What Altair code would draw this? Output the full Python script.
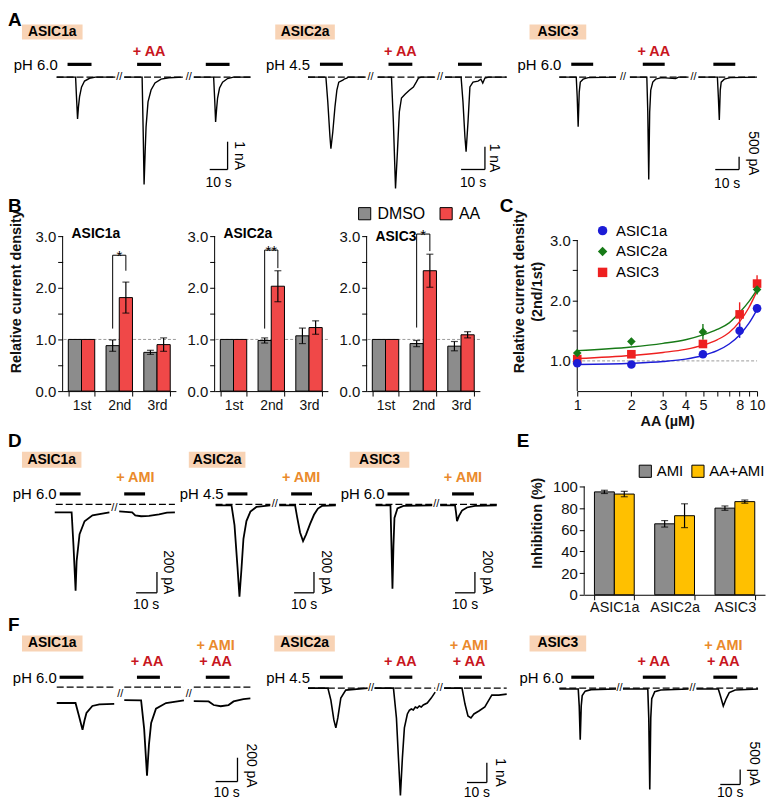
import altair as alt
import pandas as pd

FONT = "Liberation Sans"
PEACH = "#f8d3b5"
RED_T = "#c8161e"
ORANGE_T = "#ea8a2c"
GRAY = "#8c8c8c"
RED_B = "#f04848"
YELLOW = "#ffc000"

# ---------------- Panel A traces (time in s, current) ----------------
A1_T = [[27.2, 37.8, 38.3, 38.9, 39.4, 40.0, 41.1, 42.8, 45.6, 48.9, 60.0],
        [65.0, 75.0, 75.6, 76.1, 76.7, 77.2, 78.3, 80.0, 82.2, 85.6, 90.0, 97.8],
        [103.9, 115.0, 115.6, 116.1, 116.7, 117.2, 118.3, 120.0, 122.8, 126.1, 135.6]]
A1_I = [[0, 0, -0.71, -1.5, -1.07, -0.71, -0.36, -0.14, -0.04, 0, 0],
        [0, 0, -1.96, -3.86, -2.68, -1.79, -0.89, -0.46, -0.21, -0.07, -0.02, 0],
        [0, 0, -0.82, -1.61, -1.11, -0.75, -0.39, -0.18, -0.05, 0, 0]]
A2_T = [[20.0, 27.5, 28.3, 29.2, 29.6, 30.4, 31.3, 32.1, 32.9, 34.6, 35.4, 36.3, 36.7, 44.2],
        [49.2, 55.0, 55.8, 56.7, 57.5, 58.3, 59.2, 60.8, 62.5, 64.2, 65.4, 66.3, 67.5, 73.3],
        [77.5, 84.2, 85.0, 85.8, 86.3, 87.1, 87.9, 89.2, 91.3, 92.5, 93.3, 94.2, 95.8, 103.3]]
A2_I = [[0, 0, -1.09, -2.61, -3.13, -2.39, -1.30, -0.57, -0.22, -0.13, -0.07, -0.04, 0, 0],
        [0, 0, -1.96, -4.87, -3.26, -1.52, -0.91, -0.74, -0.57, -0.43, -0.22, -0.04, 0, 0],
        [0, 0, -1.09, -2.61, -3.26, -1.96, -0.43, -0.22, -0.17, -0.09, -0.26, -0.04, 0, 0]]
A3_T = [[20.4, 27.5, 27.9, 28.3, 28.75, 29.2, 30.4, 32.5, 44.2],
        [50.0, 57.1, 57.5, 57.9, 58.3, 58.75, 59.6, 60.8, 63.3, 69.2, 70.4, 74.6],
        [78.75, 86.7, 87.1, 87.5, 87.9, 88.3, 89.6, 92.1, 103.3]]
A3_I = [[0, 0, -769, -1923, -577, -192, -77, -19, 0],
        [0, 0, -1346, -3962, -1346, -500, -192, -77, -19, -58, 0, 0],
        [0, 0, -769, -1654, -500, -192, -77, -19, 0]]

# ---------------- Panel D traces ----------------
D1_T = [[22.4, 30.5, 31.4, 32.4, 32.9, 34.3, 36.7, 40.5, 48.6],
        [53.3, 59.5, 61.0, 63.8, 67.6, 72.4, 76.2, 80.0]]
D1_I = [[-76, -76, -400, -829, -543, -286, -162, -105, -76],
        [-67, -76, -105, -114, -110, -95, -80, -76]]
D2_T = [[21, 29, 30.5, 32, 33, 34, 35, 36.5, 38.5, 41.5, 48.5],
        [53, 61, 62, 63.5, 65, 66.5, 68.5, 70.5, 72.5, 74.5, 81.5]]
D2_I = [[-10, -10, -200, -600, -886, -620, -330, -160, -70, -25, -10],
        [-10, -10, -120, -270, -352, -290, -190, -100, -40, -15, -10]]
D3_T = [[19, 26.5, 27, 27.5, 28, 28.5, 30, 33, 47.5],
        [51.5, 59, 59.5, 60, 61, 62.5, 65, 69, 80]]
D3_I = [[-10, -10, -400, -810, -400, -130, -40, -15, -10],
        [-10, -10, -80, -162, -110, -60, -30, -15, -10]]

# ---------------- Panel F traces ----------------
F1_T = [[22.3, 30.9, 32.3, 34.1, 35.0, 35.9, 38.6, 41.8, 48.6],
        [53.2, 60.9, 62.3, 63.6, 64.5, 65.5, 67.7, 72.3, 80.5],
        [85.0, 91.8, 94.1, 97.3, 100.9, 103.2, 107.7, 110.9]]
F1_I = [[-133, -133, -230, -358, -280, -217, -158, -145, -140],
        [-108, -110, -350, -742, -480, -300, -180, -133, -110],
        [-117, -120, -150, -160, -150, -120, -100, -95]]
F2_T = [[24, 34, 35.5, 37, 38, 39, 40.5, 43, 54],
        [57.5, 67, 68.5, 69.5, 70.5, 71.5, 72.5, 74, 75, 76, 77, 78, 79, 80, 81, 82, 84, 86, 88],
        [92.5, 101.5, 103, 104.5, 106, 107.5, 110, 113, 115, 116.5, 120, 124]]
F2_I = [[0, 0, -0.6, -1.6, -2.0, -1.5, -0.5, -0.1, 0],
        [0, 0, -1.5, -3.5, -5.4, -3.5, -2.0, -1.3, -1.12, -1.05, -1.1, -0.95, -1.0, -0.9, -0.95, -0.85, -0.75, -0.5, -0.2],
        [0, 0, -0.8, -1.4, -1.5, -1.3, -1.15, -0.95, -0.6, -0.35, -0.35, -0.3]]
F3_T = [[24.5, 34, 34.5, 35, 35.5, 36, 37.5, 40.5, 53],
        [56.5, 69, 69.5, 70, 70.5, 71, 72.5, 75.5, 89.5],
        [93.5, 104.5, 105.5, 107, 108.5, 110, 113, 124.5]]
F3_I = [[-30, -30, -600, -1733, -600, -250, -100, -50, -30],
        [-30, -30, -1000, -3400, -1000, -350, -120, -60, -30],
        [-30, -30, -250, -600, -350, -150, -60, -30]]

# ---------------- Panel B (relative current density) ----------------
B_ROUNDS = ["1st", "2nd", "3rd"]
B_GROUPS = ["DMSO", "AA"]
B1_DMSO, B1_DMSO_ERR = [1.0, 0.88, 0.75], [0, 0.11, 0.04]
B1_AA, B1_AA_ERR = [1.0, 1.81, 0.90], [0, 0.30, 0.13]
B2_DMSO, B2_DMSO_ERR = [1.0, 0.98, 1.07], [0, 0.05, 0.15]
B2_AA, B2_AA_ERR = [1.0, 2.03, 1.23], [0, 0.30, 0.13]
B3_DMSO, B3_DMSO_ERR = [1.0, 0.92, 0.87], [0, 0.06, 0.09]
B3_AA, B3_AA_ERR = [1.0, 2.33, 1.09], [0, 0.32, 0.06]

# ---------------- Panel C (dose response) ----------------
C_PROTS = ["ASIC1a", "ASIC2a", "ASIC3"]
C_COLORS = ["#1c1cd6", "#177a17", "#ee2020"]
C1_CONC, C1_MEAN, C1_ERR = [1, 2, 5, 8, 10], [0.96, 0.94, 1.11, 1.50, 1.87], [0.03, 0.03, 0.04, 0.12, 0.07]
C2_CONC, C2_MEAN, C2_ERR = [1, 2, 5, 10], [1.13, 1.32, 1.48, 2.18], [0.04, 0.06, 0.13, 0.08]
C3_CONC, C3_MEAN, C3_ERR = [1, 2, 5, 8, 10], [1.03, 1.11, 1.28, 1.77, 2.28], [0.03, 0.04, 0.06, 0.20, 0.14]
FIT_X = [1, 2, 3, 4, 5, 6, 7, 8, 9, 10]
FIT_C1 = [0.94, 0.96, 0.99, 1.03, 1.09, 1.17, 1.28, 1.43, 1.62, 1.85]
FIT_C2 = [1.17, 1.23, 1.29, 1.35, 1.43, 1.52, 1.63, 1.80, 1.98, 2.18]
FIT_C3 = [1.04, 1.09, 1.14, 1.19, 1.26, 1.35, 1.47, 1.65, 1.88, 2.16]

# ---------------- Panel E (inhibition) ----------------
E_CATS = ["ASIC1a", "ASIC2a", "ASIC3"]
E_GROUPS = ["AMI", "AA+AMI"]
E_AMI, E_AMI_ERR = [95, 65.5, 80], [1.5, 3, 2]
E_AAAMI, E_AAAMI_ERR = [93, 73, 86], [2.5, 11, 1.5]

# ---------------- trace panel layouts (annotations, in data units) ----------------
HA = 182
PA1 = dict(w=254, h=HA, pps=1.8, ppu=28, z=67, lw=1.4,
           letter=("A", 0, 2.05), box=(7.8, 41.7, 1.357, 1.893, "ASIC1a"),
           tags=[(78.9, 0.893, "+ AA", RED_T)], ph=(27.8, 0.43, "pH 6.0"), bar_i=0.46,
           bars=[(33.3, 46.7), (72.2, 85.6), (110.6, 123.9)],
           dash=[(27.2, 60.0), (65.0, 97.8), (103.9, 135.6)], brk=[(62.2, 0), (101.1, 0)],
           sb=dict(t=122.8, i0=-3.32, i1=-2.32, t0=112.8, vl="1 nA", vt=129.2, vi=-2.82, ht=117.8, hi=-3.82))
PA2 = dict(w=252, h=HA, pps=2.4, ppu=23, z=67, lw=1.4,
           letter=None, box=(6.25, 31.25, 1.652, 2.304, "ASIC2a"),
           tags=[(58.75, 1.087, "+ AA", RED_T)], ph=(20.8, 0.52, "pH 4.5"), bar_i=0.565,
           bars=[(25, 34.6), (53.75, 63.75), (82.9, 92.9)],
           dash=[(20, 44.2), (49.2, 73.3), (77.5, 103.3)], brk=[(46.25, 0), (75.4, 0)],
           sb=dict(t=94.2, i0=-4.04, i1=-3.04, t0=84.2, vl="1 nA", vt=98.2, vi=-3.54, ht=89.2, hi=-4.65))
PA3 = dict(w=252, h=HA, pps=2.4, ppu=0.026, z=67, lw=1.4,
           letter=None, box=(7.9, 31.7, 1462, 2038, "ASIC3"),
           tags=[(60, 962, "+ AA", RED_T)], ph=(21.25, 462, "pH 6.0"), bar_i=500,
           bars=[(25.4, 34.6), (55.4, 64.6), (85, 94.2)],
           dash=[(20.4, 44.2), (50, 74.6), (78.75, 103.3)], brk=[(47.1, 0), (76.7, 0)],
           sb=dict(t=95.8, i0=-3577, i1=-3077, t0=85.8, vl="500 pA", vt=101.5, vi=-2950, ht=90.8, hi=-4120))
PD1 = dict(w=167, h=185, pps=2.1, ppu=0.105, z=74, lw=1.8,
           letter=("D", 0, 609), box=(6.7, 35.2, 352, 505, "ASIC1a"),
           tags=[(61, 257, "+ AMI", ORANGE_T)], ph=(23.3, 95, "pH 6.0"), bar_i=100,
           bars=[(24.8, 34.8), (55.7, 65.7)],
           dash=[(22.9, 49.5), (53.3, 80.0)], brk=[(51.0, -38)],
           sb=dict(t=71.4, i0=-848, i1=-648, t0=61.4, vl="200 pA", vt=76.6, vi=-650, ht=66.2, hi=-962))
PD2 = dict(w=165, h=185, pps=2.0, ppu=0.105, z=74, lw=1.8,
           letter=None, box=(7.5, 36, 352, 505, "ASIC2a"),
           tags=[(64, 257, "+ AMI", ORANGE_T)], ph=(25, 95, "pH 4.5"), bar_i=100,
           bars=[(27, 37), (59, 69.5)],
           dash=[(21, 48.5), (53, 81.5)], brk=[(50.75, 0)],
           sb=dict(t=70.5, i0=-848, i1=-648, t0=60.5, vl="200 pA", vt=76.5, vi=-650, ht=65.5, hi=-962))
PD3 = dict(w=165, h=185, pps=2.0, ppu=0.105, z=74, lw=1.8,
           letter=None, box=(6, 36, 352, 505, "ASIC3"),
           tags=[(63, 257, "+ AMI", ORANGE_T)], ph=(23.5, 95, "pH 6.0"), bar_i=100,
           bars=[(25, 36), (57.5, 68.5)],
           dash=[(19, 47.5), (51.5, 80)], brk=[(49.5, 0)],
           sb=dict(t=69, i0=-848, i1=-648, t0=59, vl="200 pA", vt=75, vi=-650, ht=64, hi=-962))
PF1 = dict(w=254, h=184, pps=2.2, ppu=0.12, z=73, lw=1.8,
           letter=("F", 0, 525), box=(6.4, 34.1, 300, 433, "ASIC1a"),
           tags=[(63.6, 208, "+ AA", RED_T), (95, 342, "+ AMI", ORANGE_T), (95, 208, "+ AA", RED_T)],
           ph=(22.3, 75, "pH 6.0"), bar_i=83,
           bars=[(23.6, 34.5), (59, 69.5), (90.5, 101.4)],
           dash=[(22.3, 49.5), (53.2, 80.5), (85, 111)], brk=[(51.4, -60), (82.7, -60)],
           sb=dict(t=105, i0=-792, i1=-592, t0=95, vl="200 pA", vt=111.0, vi=-658, ht=100, hi=-892))
PF2 = dict(w=252, h=184, pps=2.0, ppu=20, z=74, lw=1.6,
           letter=None, box=(7, 37.5, 1.85, 2.65, "ASIC2a"),
           tags=[(70.5, 1.3, "+ AA", RED_T), (105, 2.1, "+ AMI", ORANGE_T), (105, 1.3, "+ AA", RED_T)],
           ph=(25, 0.5, "pH 4.5"), bar_i=0.55,
           bars=[(30, 41.5), (65, 76.5), (100, 111.5)],
           dash=[(24, 54), (57.5, 88), (92.5, 124)], brk=[(55.75, 0), (90.25, 0)],
           sb=dict(t=114, i0=-4.75, i1=-3.75, t0=104, vl="1 nA", vt=120.5, vi=-4.25, ht=109, hi=-5.3))
PF3 = dict(w=252, h=184, pps=2.0, ppu=0.03, z=74, lw=1.6,
           letter=None, box=(9.5, 38, 1233, 1767, "ASIC3"),
           tags=[(72, 867, "+ AA", RED_T), (107, 1400, "+ AMI", ORANGE_T), (107, 867, "+ AA", RED_T)],
           ph=(26.5, 333, "pH 6.0"), bar_i=367,
           bars=[(30.5, 42), (66.5, 78), (102, 114)],
           dash=[(24.5, 53), (56.5, 89.5), (93.5, 124.5)], brk=[(54.75, 0), (91.5, 0)],
           sb=dict(t=115.5, i0=-3233, i1=-2733, t0=105.5, vl="500 pA", vt=122.5, vi=-2533, ht=110.5, hi=-3533))


def one(**kw):
    return pd.DataFrame({k: [v] for k, v in kw.items()})


def trace_panel(P, T, I):
    w, h, pps, ppu, z = P["w"], P["h"], P["pps"], P["ppu"], P["z"]
    xs = alt.Scale(domain=[0, w / pps], nice=False, zero=False)
    ys = alt.Scale(domain=[-(h - z) / ppu, z / ppu], nice=False, zero=False)

    def X(f):
        return alt.X(f + ":Q", scale=xs, axis=None)

    def Y(f):
        return alt.Y(f + ":Q", scale=ys, axis=None)

    L = []
    t0, t1, i0, i1, lab = P["box"]
    box = one(t0=t0, t1=t1, i0=i0, i1=i1, tc=(t0 + t1) / 2, ic=(i0 + i1) / 2, s=lab)
    L.append(alt.Chart(box).mark_rect(color=PEACH).encode(x=X("t0"), x2="t1", y=Y("i0"), y2="i1"))
    L.append(alt.Chart(box).mark_text(fontSize=14, fontWeight="bold", color="black").encode(
        x=X("tc"), y=Y("ic"), text="s:N"))
    if P["letter"]:
        s, t, i = P["letter"]
        L.append(alt.Chart(one(t=t, i=i, s=s)).mark_text(fontSize=19, fontWeight="bold", align="left",
                                                          color="black").encode(x=X("t"), y=Y("i"), text="s:N"))
    tags = pd.DataFrame(P["tags"], columns=["t", "i", "s", "c"])
    L.append(alt.Chart(tags).mark_text(fontSize=14.5, fontWeight="bold").encode(
        x=X("t"), y=Y("i"), text="s:N", color=alt.Color("c:N", scale=None)))
    t, i, s = P["ph"]
    L.append(alt.Chart(one(t=t, i=i, s=s)).mark_text(fontSize=15, align="right", color="black").encode(
        x=X("t"), y=Y("i"), text="s:N"))
    bars = pd.DataFrame(P["bars"], columns=["t0", "t1"])
    bars["i"] = P["bar_i"]
    L.append(alt.Chart(bars).mark_rule(strokeWidth=3.2, color="black").encode(x=X("t0"), x2="t1", y=Y("i")))
    dash = pd.DataFrame(P["dash"], columns=["t0", "t1"])
    dash["i"] = 0.0
    L.append(alt.Chart(dash).mark_rule(strokeDash=[7, 3], strokeWidth=1.2, color="black").encode(
        x=X("t0"), x2="t1", y=Y("i")))
    rows = []
    for k, (ts, vs) in enumerate(zip(T, I)):
        for n, (tt, vv) in enumerate(zip(ts, vs)):
            rows.append(dict(sw=k, n=n, t=tt, i=vv))
    L.append(alt.Chart(pd.DataFrame(rows)).mark_line(color="black", strokeWidth=P["lw"]).encode(
        x=X("t"), y=Y("i"), detail="sw:N", order="n:Q"))
    brk = pd.DataFrame(P["brk"], columns=["t", "i"])
    brk["s"] = "//"
    L.append(alt.Chart(brk).mark_text(fontSize=11, color="black").encode(x=X("t"), y=Y("i"), text="s:N"))
    sb = P["sb"]
    L.append(alt.Chart(one(t=sb["t"], i0=sb["i0"], i1=sb["i1"])).mark_rule(strokeWidth=1.3, color="black").encode(
        x=X("t"), y=Y("i0"), y2="i1"))
    L.append(alt.Chart(one(t0=sb["t0"], t1=sb["t"], i=sb["i0"])).mark_rule(strokeWidth=1.3, color="black").encode(
        x=X("t0"), x2="t1", y=Y("i")))
    L.append(alt.Chart(one(t=sb["vt"], i=sb["vi"], s=sb["vl"])).mark_text(fontSize=14, angle=90, color="black").encode(
        x=X("t"), y=Y("i"), text="s:N"))
    L.append(alt.Chart(one(t=sb["ht"], i=sb["hi"], s="10 s")).mark_text(fontSize=14, color="black").encode(
        x=X("t"), y=Y("i"), text="s:N"))
    return alt.layer(*L).properties(width=w, height=h)


def bar_panel(cats, groups, colors, vals_a, err_a, vals_b, err_b, ydom, axis_rng, yvals, ylabexpr, ytitle,
              tpad, pad_in, pad_out, w, h, xoffset=0, title=None, title_y=None, bracket=None, star=None,
              legend=None, xlabsize=14, xlabpad=3, dashed1=False):
    rows = []
    for k, c in enumerate(cats):
        rows.append(dict(cat=c, grp=groups[0], v=vals_a[k], e=err_a[k]))
        rows.append(dict(cat=c, grp=groups[1], v=vals_b[k], e=err_b[k]))
    df = pd.DataFrame(rows)
    df["lo"] = df["v"] - df["e"]
    df["hi"] = df["v"] + df["e"]
    xax = alt.Axis(title=None, labelAngle=0, tickBand="extent", tickSize=5, labelFontSize=xlabsize,
                   labelPadding=xlabpad, labelColor="#111111", offset=xoffset)
    xsc = alt.Scale(domain=cats, paddingInner=pad_in, paddingOuter=pad_out)
    yax = alt.Axis(values=yvals, labelExpr=ylabexpr, tickSize=5, labelFontSize=15, labelPadding=2,
                   title=ytitle, titleFontSize=14.5, titleFontWeight="bold", titlePadding=tpad, domain=False,
                   labelColor="#111111", titleColor="#111111")
    ysc = alt.Scale(domain=ydom, nice=False, zero=False)

    def X():
        return alt.X("cat:N", scale=xsc, axis=xax, sort=cats)

    def XO():
        return alt.XOffset("grp:N", scale=alt.Scale(domain=groups, paddingInner=0, paddingOuter=0), sort=groups)

    def Y(f):
        return alt.Y(f + ":Q", scale=ysc, axis=yax)

    L = []
    if dashed1:
        L.append(alt.Chart(one(y=1.0)).mark_rule(strokeDash=[3, 2], color="#9a9a9a", strokeWidth=1).encode(y=Y("y")))
    L.append(alt.Chart(one(y0=axis_rng[0], y1=axis_rng[1])).mark_rule(color="black", strokeWidth=1).encode(
        x=alt.value(0), y=Y("y0"), y2="y1"))
    color = alt.Color("grp:N", scale=alt.Scale(domain=groups, range=colors), legend=legend)
    L.append(alt.Chart(df).mark_bar(stroke="black", strokeWidth=1).encode(x=X(), xOffset=XO(), y=Y("v"), color=color))
    eb = df[df["e"] > 0]
    L.append(alt.Chart(eb).mark_rule(color="black", strokeWidth=1.2).encode(x=X(), xOffset=XO(), y=Y("lo"), y2="hi"))
    caps = pd.concat([eb.assign(yc=eb["lo"]), eb.assign(yc=eb["hi"])])
    L.append(alt.Chart(caps).mark_tick(color="black", size=7, thickness=1.2).encode(x=X(), xOffset=XO(), y=Y("yc")))
    if bracket:
        lo_l, top, lo_r = bracket
        br = pd.DataFrame(dict(cat=[cats[1]] * 4, grp=[groups[0], groups[0], groups[1], groups[1]],
                               y=[lo_l, top, top, lo_r], k=[0, 1, 2, 3]))
        L.append(alt.Chart(br).mark_line(color="black", strokeWidth=1).encode(
            x=X(), xOffset=XO(), y=Y("y"), order="k:Q"))
        L.append(alt.Chart(one(cat=cats[1], y=top, s=star)).mark_text(fontSize=15, baseline="alphabetic",
                                                                        dy=6, color="black").encode(
            x=X(), y=Y("y"), text="s:N"))
    if title:
        L.append(alt.Chart(one(s=title, y=title_y)).mark_text(fontSize=14, fontWeight="bold", align="left",
                                                              color="black").encode(
            x=alt.value(9), y=Y("y"), text="s:N"))
    return alt.layer(*L).properties(width=w, height=h)


INT_LAB = "datum.value % 1 == 0 ? format(datum.value, '.1f') : ''"
B_VALS = [0, 0.5, 1, 1.5, 2, 2.5, 3]
TOP_BC = 8 + HA
HB = 391 - TOP_BC
B_DOM = [0, HB / 52]

legB = alt.Legend(orient="none", legendX=-10, legendY=14, direction="horizontal", title=None,
                  symbolType="square", symbolSize=150, symbolStrokeColor="black", symbolStrokeWidth=1,
                  labelFontSize=16, columnPadding=12, labelOffset=5, padding=0)
B1 = bar_panel(B_ROUNDS, B_GROUPS, [GRAY, RED_B], B1_DMSO, B1_DMSO_ERR, B1_AA, B1_AA_ERR, B_DOM, [0, 3], B_VALS,
               INT_LAB, "Relative current density", 12, 0.3, 0.15, 114, HB, title="ASIC1a", title_y=3.04,
               bracket=(1.21, 2.63, 2.33), star="*", dashed1=True)
B2 = bar_panel(B_ROUNDS, B_GROUPS, [GRAY, RED_B], B2_DMSO, B2_DMSO_ERR, B2_AA, B2_AA_ERR, B_DOM, [0, 3], B_VALS,
               INT_LAB, None, 8, 0.3, 0.15, 114, HB, title="ASIC2a", title_y=3.04,
               bracket=(1.21, 2.73, 2.38), star="**", dashed1=True)
B3 = bar_panel(B_ROUNDS, B_GROUPS, [GRAY, RED_B], B3_DMSO, B3_DMSO_ERR, B3_AA, B3_AA_ERR, B_DOM, [0, 3], B_VALS,
               INT_LAB, None, 8, 0.3, 0.15, 114, HB, title="ASIC3", title_y=2.98,
               bracket=(1.23, 3.04, 2.71), star="*", legend=legB, dashed1=True)

legE = alt.Legend(orient="none", legendX=54, legendY=33, direction="horizontal", title=None,
                  symbolType="square", symbolSize=150, symbolStrokeColor="black", symbolStrokeWidth=1,
                  labelFontSize=15, columnPadding=6, labelOffset=4, padding=0)
E = bar_panel(E_CATS, E_GROUPS, [GRAY, YELLOW], E_AMI, E_AMI_ERR, E_AAAMI, E_AAAMI_ERR,
              [-20 / 1.09, 165 / 1.09], [0, 100], [0, 20, 40, 60, 80, 100], "datum.label", "Inhibition (%)", 8,
              0.34, 0.17, 182, 185, xoffset=-20, legend=legE, xlabsize=14.5, xlabpad=1)

# ---------------- Panel C chart ----------------
cmap = dict(zip(C_PROTS, C_COLORS))
pts = []
for p, cc, mm, ee in [("ASIC3", C3_CONC, C3_MEAN, C3_ERR), ("ASIC2a", C2_CONC, C2_MEAN, C2_ERR),
                      ("ASIC1a", C1_CONC, C1_MEAN, C1_ERR)]:
    for c, m, e in zip(cc, mm, ee):
        pts.append(dict(prot=p, conc=c, m=m, lo=m - e, hi=m + e, col=cmap[p]))
pts = pd.DataFrame(pts)
fits = []
for p, fy in [("ASIC1a", FIT_C1), ("ASIC2a", FIT_C2), ("ASIC3", FIT_C3)]:
    for x, y in zip(FIT_X, fy):
        fits.append(dict(prot=p, conc=x, m=y, col=cmap[p]))
fits = pd.DataFrame(fits)

cxs = alt.Scale(type="log", domain=[1, 10], nice=False)
cys = alt.Scale(domain=[0.5, 0.5 + HB / 60.8], nice=False, zero=False)
cxax = alt.Axis(values=list(range(1, 11)),
                labelExpr="indexof([1,2,3,4,5,8,10], datum.value) >= 0 ? '' + datum.value : ''",
                labelOverlap=False, labelBound=False, labelFlush=False,
                title="AA (µM)", titleFontWeight="bold", titleFontSize=14.5, labelFontSize=14.5, tickSize=5,
                labelPadding=3, titlePadding=2, labelColor="#111111", titleColor="#111111")
cyax = alt.Axis(values=[1, 1.5, 2, 2.5, 3], labelExpr=INT_LAB, tickSize=5, labelFontSize=15, labelPadding=2,
                title=["Relative current density", "(2nd/1st)"], titleFontWeight="bold", titleFontSize=14.5,
                titlePadding=5, titleLineHeight=18, labelColor="#111111", titleColor="#111111", domain=False)


def CX(f):
    return alt.X(f + ":Q", scale=cxs, axis=cxax)


def CY(f):
    return alt.Y(f + ":Q", scale=cys, axis=cyax)


legC = alt.Legend(orient="none", legendX=18, legendY=32, direction="vertical", title=None,
                  symbolSize=90, labelFontSize=15, rowPadding=5, labelOffset=6, padding=0)
C = alt.layer(
    alt.Chart(one(y0=0.5, y1=3.0)).mark_rule(color="black", strokeWidth=1).encode(x=alt.value(0), y=CY("y0"), y2="y1"),
    alt.Chart(one(x1=1, x2=10, y=1.0)).mark_rule(strokeDash=[3, 2], color="#9a9a9a", strokeWidth=1).encode(
        x=CX("x1"), x2="x2", y=CY("y")),
    alt.Chart(fits).mark_line(strokeWidth=1.4, interpolate="monotone").encode(
        x=CX("conc"), y=CY("m"), detail="prot:N", color=alt.Color("col:N", scale=None)),
    alt.Chart(pts).mark_rule(strokeWidth=1.4).encode(
        x=CX("conc"), y=CY("lo"), y2="hi", color=alt.Color("col:N", scale=None)),
    alt.Chart(pts).mark_point(filled=True, size=75, opacity=1).encode(
        x=CX("conc"), y=CY("m"),
        color=alt.Color("prot:N", scale=alt.Scale(domain=C_PROTS, range=C_COLORS), legend=legC),
        shape=alt.Shape("prot:N", scale=alt.Scale(domain=C_PROTS, range=["circle", "diamond", "square"]),
                        legend=legC)),
).properties(width=181, height=HB)


def spacer(w, h, label="", lx=0, ly=10):
    return alt.Chart(one(s=label)).mark_text(fontSize=19, fontWeight="bold", align="left", color="black").encode(
        x=alt.value(lx), y=alt.value(ly), text="s:N").properties(width=w, height=h)


RES = dict(color="independent", shape="independent", xOffset="independent")


def row(*charts):
    return alt.hconcat(*charts, spacing=0, bounds="flush").resolve_scale(**RES)


rowA = row(trace_panel(PA1, A1_T, A1_I), trace_panel(PA2, A2_T, A2_I), trace_panel(PA3, A3_T, A3_I))
rowBC = row(spacer(55, HB, "B", 0, 15), B1, spacer(39, HB), B2, spacer(39, HB), B3,
            spacer(98, 431 - TOP_BC, "C", 20, 15), C)
rowDE = row(trace_panel(PD1, D1_T, D1_I), trace_panel(PD2, D2_T, D2_I), trace_panel(PD3, D3_T, D3_I),
            spacer(83, 185, "E", 15, 10), E)
rowF = row(trace_panel(PF1, F1_T, F1_I), trace_panel(PF2, F2_T, F2_I), trace_panel(PF3, F3_T, F3_I))

chart = alt.vconcat(rowA, rowBC, rowDE, rowF, spacing=0, padding=0).resolve_scale(**RES).configure(
    font=FONT).configure_view(stroke=None).configure_axis(
    grid=False, domainColor="black", tickColor="black", labelFont=FONT, titleFont=FONT
).configure_legend(labelFont=FONT)

chart.save("out.html", embed_options={"renderer": "svg", "actions": False})
